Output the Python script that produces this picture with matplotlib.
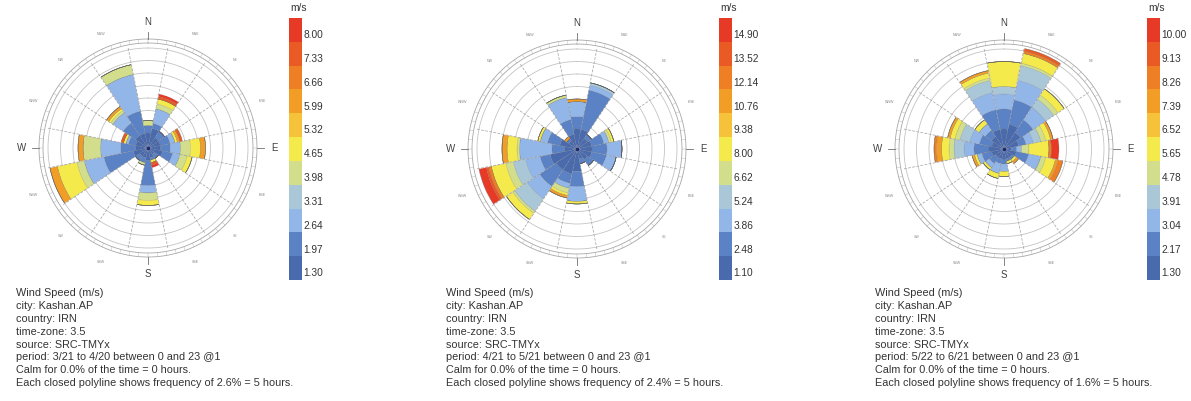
import matplotlib
matplotlib.use("Agg")
import matplotlib.pyplot as plt
import numpy as np

plt.rcParams["font.family"] = ["Liberation Sans", "DejaVu Sans"]

W, H = 1191, 401
fig = plt.figure(figsize=(W / 100, H / 100), dpi=100)

# speed bin colours (Ladybug default legend, 11 segments)
bin_colors = ["#4a6aae", "#5b82c4", "#93b6e8", "#aac7d8", "#d2de8c", "#f4ea4c",
              "#f5c23a", "#f29d26", "#ee7f24", "#ea5a24", "#e63a26"]

directions = ["N", "NNE", "NE", "ENE", "E", "ESE", "SE", "SSE",
              "S", "SSW", "SW", "WSW", "W", "WNW", "NW", "NNW"]

# hours per speed bin for each direction (rows follow `directions`)
hours_p1 = [
    [6, 3, 0, 0, 2, 0, 0, 0, 0, 0, 0],
    [8, 2, 6, 0, 2, 2, 0, 0, 0, 1, 1],
    [5, 3, 0, 0, 0, 0, 0, 0, 0, 0, 0],
    [5, 4, 2, 0, 0, 1, 0, 1, 0, 1, 0],
    [5, 4, 4, 0, 4, 4, 0, 2, 0, 0, 0],
    [6, 4, 3, 0, 3, 2, 0, 0, 0, 0, 0],
    [3, 2, 0, 0, 0, 0, 0, 0, 0, 0, 0],
    [4, 1, 0, 0, 0, 1, 0, 0, 0, 1, 1],
    [5, 10, 3, 0, 3, 2, 0, 0, 0, 0, 0],
    [4, 2, 0, 0, 1, 0, 0, 0, 0, 0, 0],
    [4, 2, 0, 0, 0, 0, 0, 0, 0, 0, 0],
    [6, 12, 8, 0, 3, 8, 0, 3, 0, 0, 0],
    [5, 6, 8, 0, 7, 0, 0, 2, 0, 0, 0],
    [5, 3, 1, 0, 0, 1, 0, 0, 0, 1, 0],
    [6, 6, 5, 0, 1, 1, 0, 1, 0, 0, 0],
    [6, 9, 15, 0, 4, 0, 0, 0, 0, 0, 0],
]
hours_p2 = [
    [8, 5, 6, 0, 0, 0, 0, 1, 0, 0, 0],
    [8, 16, 2, 1, 0, 0, 0, 0, 0, 0, 0],
    [5, 2, 0, 0, 0, 0, 0, 0, 0, 0, 0],
    [6, 5, 2, 0, 1, 1, 0, 0, 0, 0, 0],
    [6, 6, 6, 0, 0, 0, 0, 0, 0, 0, 0],
    [6, 6, 4, 0, 0, 0, 0, 0, 0, 0, 0],
    [5, 3, 0, 0, 0, 0, 0, 0, 0, 0, 0],
    [4, 2, 0, 0, 0, 0, 0, 0, 0, 0, 0],
    [9, 6, 6, 0, 0, 1, 0, 0, 0, 0, 0],
    [10, 4, 2, 0, 2, 1, 0, 1, 0, 0, 0],
    [10, 8, 6, 6, 1, 3, 0, 0, 0, 0, 0],
    [11, 4, 6, 5, 3, 6, 0, 0, 1, 1, 3],
    [5, 5, 13, 0, 1, 4, 0, 2, 0, 0, 0],
    [7, 5, 3, 0, 0, 1, 0, 0, 0, 0, 0],
    [4, 1, 0, 0, 0, 0, 0, 1, 0, 0, 0],
    [6, 6, 9, 0, 1, 0, 0, 0, 0, 0, 0],
]
hours_p3 = [
    [8, 8, 6, 3, 0, 10, 0, 0, 0, 0, 0],
    [10, 10, 8, 6, 1, 4, 0, 0, 1, 1, 0],
    [8, 6, 6, 4, 2, 3, 0, 0, 0, 0, 0],
    [6, 3, 3, 3, 2, 2, 0, 1, 0, 0, 0],
    [3, 2, 2, 0, 3, 8, 0, 0, 1, 0, 3],
    [5, 5, 5, 0, 2, 4, 0, 1, 2, 0, 0],
    [4, 1, 0, 0, 0, 1, 0, 1, 0, 0, 0],
    [4, 1, 0, 0, 0, 1, 0, 0, 0, 0, 0],
    [4, 2, 3, 0, 0, 2, 0, 0, 0, 0, 0],
    [4, 2, 4, 0, 0, 2, 0, 0, 0, 0, 0],
    [4, 3, 2, 0, 0, 1, 0, 0, 0, 0, 0],
    [5, 4, 2, 0, 0, 1, 0, 1, 0, 0, 0],
    [6, 6, 4, 4, 2, 3, 0, 2, 1, 0, 0],
    [5, 5, 4, 4, 2, 2, 0, 1, 0, 0, 0],
    [6, 3, 3, 0, 0, 2, 0, 0, 0, 0, 0],
    [8, 8, 7, 5, 1, 2, 0, 1, 0, 0, 0],
]

ticks_p1 = ["1.30", "1.97", "2.64", "3.31", "3.98", "4.65", "5.32", "5.99", "6.66", "7.33", "8.00"]
ticks_p2 = ["1.10", "2.48", "3.86", "5.24", "6.62", "8.00", "9.38", "10.76", "12.14", "13.52", "14.90"]
ticks_p3 = ["1.30", "2.17", "3.04", "3.91", "4.78", "5.65", "6.52", "7.39", "8.26", "9.13", "10.00"]

periods = ["3/21 to 4/20 between 0 and 23 @1",
           "4/21 to 5/21 between 0 and 23 @1",
           "5/22 to 6/21 between 0 and 23 @1"]
freqs = ["2.6%", "2.4%", "1.6%"]

panels = [
    dict(hours=hours_p1, ticks=ticks_p1, center=(148, 148), cbar_x=289, text_x=16),
    dict(hours=hours_p2, ticks=ticks_p2, center=(577, 149), cbar_x=719, text_x=446),
    dict(hours=hours_p3, ticks=ticks_p3, center=(1004, 149), cbar_x=1147, text_x=875),
]

px_per_hour = 2.5
R_px = 118
rmax = R_px / px_per_hour
grid_col = "#c4c4c4"
txt_col = "#333333"

for k, p in enumerate(panels):
    cx, cy = p["center"]
    ax = fig.add_axes([(cx - R_px) / W, 1 - (cy + R_px) / H, 2 * R_px / W, 2 * R_px / H],
                      projection="polar")
    ax.set_theta_zero_location("N")
    ax.set_theta_direction(-1)
    ax.set_ylim(0, rmax)
    ax.set_axis_off()

    full = np.linspace(0, 2 * np.pi, 400)
    # frequency rings, every 5 hours
    for r in np.arange(5, 41, 5):
        ax.plot(full, np.full_like(full, r), color=grid_col, lw=0.6, zorder=1)
    # compass double circle
    for r in (42.0, 43.6):
        ax.plot(full, np.full_like(full, r), color="#a8a8a8", lw=0.6, zorder=1)
    for d in np.arange(0, 360, 5):
        t = np.deg2rad(d)
        ax.plot([t, t], [42.0, 43.6], color="#b0b0b0", lw=0.3, zorder=1)
    # sector boundaries
    for i in range(16):
        t = np.deg2rad(11.25 + 22.5 * i)
        ax.plot([t, t], [3, 41.3], color="#a0a0a0", lw=0.5, ls=(0, (4, 2)), zorder=1)

    # stacked bars
    theta = np.deg2rad(np.arange(16) * 22.5)
    hrs = np.array(p["hours"], dtype=float)
    bottom = np.zeros(16)
    for b in range(11):
        h = hrs[:, b]
        ax.bar(theta, h, width=np.deg2rad(22.5) * 0.97, bottom=bottom,
               color=bin_colors[b], edgecolor=(0.35, 0.35, 0.35, 0.3),
               linewidth=0.3, zorder=2, align="center")
        bottom = bottom + h
    ax.plot([0], [0], marker="o", ms=1.5, color="#1a2a6a", zorder=3)

    # direction labels
    for i, name in enumerate(directions):
        t = np.deg2rad(22.5 * i)
        if len(name) == 1:
            ax.plot([t, t], [43.6, 46.5], color="#707070", lw=0.6, clip_on=False)
            ax.text(t, 50.5, name, ha="center", va="center", fontsize=7,
                    color="#404040", clip_on=False)
        else:
            ax.text(t, 49.5, name, ha="center", va="center", fontsize=2.6,
                    color="#8a8a8a", clip_on=False)

    # legend bar
    cb_top, cb_bot = 18, 280
    cax = fig.add_axes([p["cbar_x"] / W, 1 - cb_bot / H, 13 / W, (cb_bot - cb_top) / H])
    cax.bar(np.zeros(11), np.ones(11), bottom=np.arange(11), width=1.0,
            color=bin_colors, linewidth=0)
    cax.set_xlim(-0.5, 0.5)
    cax.set_ylim(0, 11)
    cax.set_axis_off()
    for i, lab in enumerate(p["ticks"]):
        cax.text(0.62, i + 0.28, lab, ha="left", va="center", fontsize=7.3,
                 color=txt_col, transform=cax.transData, clip_on=False)
    fig.text((p["cbar_x"] + 1) / W, 1 - 8 / H, "m/s", ha="left", va="center",
             fontsize=7.3, color=txt_col)

    lines = ["Wind Speed (m/s)", "city: Kashan.AP", "country: IRN", "time-zone: 3.5",
             "source: SRC-TMYx", "period: " + periods[k],
             "Calm for 0.0% of the time = 0 hours.",
             "Each closed polyline shows frequency of " + freqs[k] + " = 5 hours."]
    for j, line in enumerate(lines):
        fig.text(p["text_x"] / W, 1 - (293 + 12.9 * j) / H, line, ha="left",
                 va="center", fontsize=7.8, color=txt_col)

fig.savefig("out.png", dpi=100, facecolor="white")
